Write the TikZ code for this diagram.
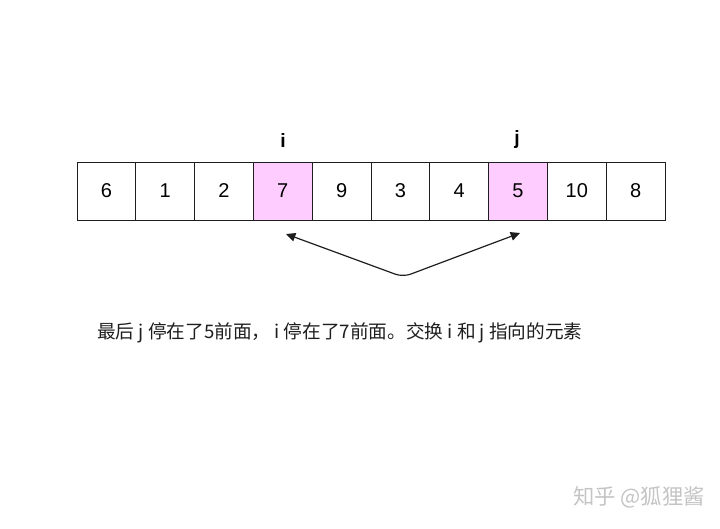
\documentclass[tikz,border=0pt]{standalone}
\usepackage{fontspec}
\usepackage{tikz}
\usepackage{xcolor}
\usetikzlibrary{arrows.meta,positioning}
\setmainfont{Liberation Sans}
\newfontfamily\cjk{Noto Sans CJK SC}
\definecolor{ink}{HTML}{1E1E1E}
\definecolor{hit}{HTML}{FFCCFF}
\definecolor{mark}{HTML}{C4C4C4}

\begin{document}
\begin{tikzpicture}[x=0.75pt,y=-0.75pt,>={Triangle[length=7pt,width=6.5pt]},
  box/.style={draw=ink,line width=0.6pt,fill=white,minimum width=44.1pt,
              minimum height=43.5pt,inner sep=0pt,font=\fontsize{15}{17}\selectfont},
  pinkbox/.style={box,fill=hit},
  lbl/.style={font=\bfseries\fontsize{14.5}{16}\selectfont,inner sep=0pt}]
  \useasboundingbox (0,0) rectangle (720,528);
  % the array
  \foreach \v/\s [count=\k] in {6/box,1/box,2/box,7/pinkbox,9/box,
                                3/box,4/box,5/pinkbox,10/box,8/box}{
    \node[\s] (c\k) at ({77+58.8*(\k-0.5)},191) {\v};}
  % pointers
  \node[lbl] (i) at (283,140) {i};
  \node[lbl] (j) at (517,140) {j};
  % swap arrow
  \coordinate (lt) at (286,234);
  \coordinate (bt) at (403,277);
  \coordinate (rt) at (520,233);
  \draw[<->,draw=ink,line width=0.9pt,rounded corners=6pt] (lt) -- (bt) -- (rt);
  % caption
  \node[anchor=west,inner sep=0pt,text=ink] (msg) at (97,333)
    {\cjk\fontsize{14}{16}\selectfont 最后 j 停在了5前面，\ i 停在了7前面。交换 i 和 j 指向的元素};
  \node[anchor=east,inner sep=0pt,text=mark] (wm) at (705,497)
    {\cjk\fontsize{16}{18}\selectfont 知乎 @狐狸酱};
\end{tikzpicture}
\end{document}
